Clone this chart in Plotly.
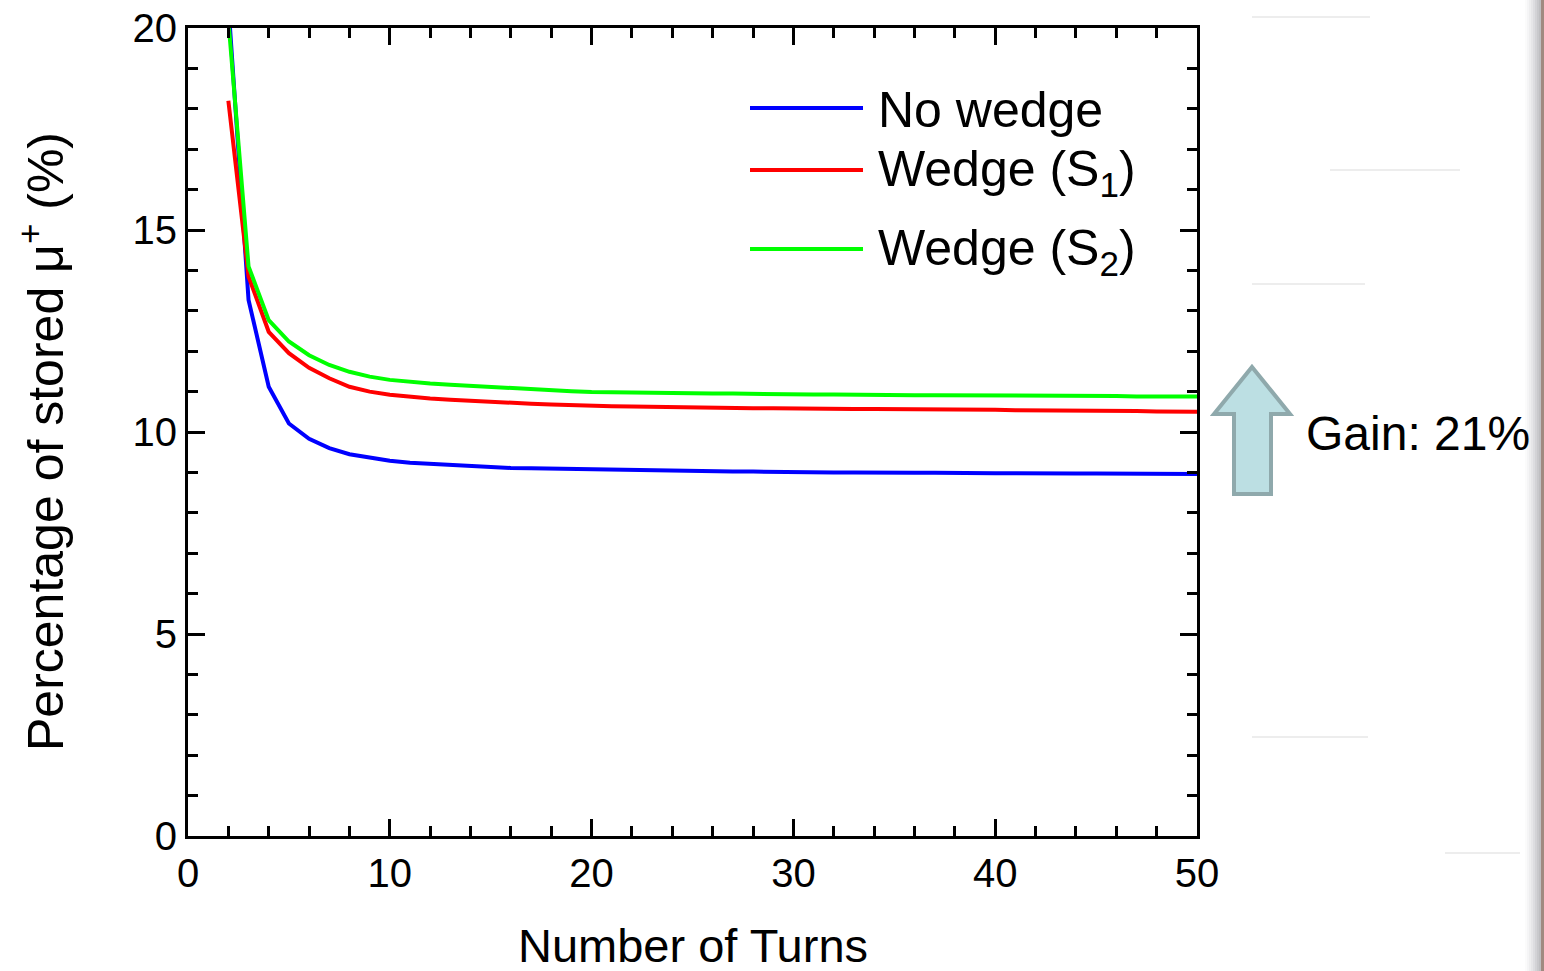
import plotly.graph_objects as go

turns = list(range(2, 51))

no_wedge = [20.6, 13.27, 11.12, 10.21, 9.83, 9.60, 9.45, 9.36, 9.29, 9.24,
            9.21, 9.18, 9.16, 9.14, 9.11, 9.10, 9.09, 9.08, 9.07, 9.06,
            9.05, 9.04, 9.04, 9.03, 9.03, 9.02, 9.02, 9.01, 9.01, 9.00,
            9.00, 9.00, 8.99, 8.99, 8.99, 8.99, 8.98, 8.98, 8.98, 8.98,
            8.97, 8.97, 8.97, 8.97, 8.97, 8.96, 8.96, 8.96, 8.96]
wedge_s1 = [18.2, 13.85, 12.48, 11.95, 11.59, 11.33, 11.12, 11.00, 10.92, 10.87,
            10.83, 10.80, 10.77, 10.75, 10.72, 10.70, 10.68, 10.66, 10.65, 10.64,
            10.63, 10.62, 10.61, 10.61, 10.60, 10.60, 10.59, 10.59, 10.58, 10.58,
            10.58, 10.57, 10.57, 10.57, 10.56, 10.56, 10.55, 10.55, 10.55, 10.54,
            10.54, 10.53, 10.53, 10.52, 10.52, 10.52, 10.51, 10.51, 10.50]
wedge_s2 = [20.2, 14.1, 12.77, 12.24, 11.90, 11.66, 11.49, 11.37, 11.29, 11.24,
            11.20, 11.17, 11.14, 11.12, 11.10, 11.07, 11.04, 11.01, 10.99, 10.98,
            10.97, 10.97, 10.96, 10.96, 10.95, 10.95, 10.94, 10.94, 10.93, 10.93,
            10.93, 10.92, 10.92, 10.92, 10.91, 10.91, 10.91, 10.90, 10.90, 10.90,
            10.90, 10.89, 10.89, 10.89, 10.89, 10.88, 10.88, 10.88, 10.88]

series_names = ["No wedge", "Wedge (S<sub>1</sub>)", "Wedge (S<sub>2</sub>)"]
series_colors = ["#0000FF", "#FF0000", "#00FF00"]
series_values = [no_wedge, wedge_s1, wedge_s2]

W, H = 1544, 971
L, R, T, B = 188, 1197, 28, 836


def px(x):
    return (x - L) / (R - L)


def py(y):
    return (B - y) / (B - T)


FONT = "Liberation Sans, Arial, sans-serif"

fig = go.Figure()
for name, col, vals in zip(series_names, series_colors, series_values):
    fig.add_trace(go.Scatter(x=turns, y=vals, mode="lines", name=name,
                             line=dict(color=col, width=4), showlegend=False))

axis_common = dict(
    showgrid=False, zeroline=False, showline=True, linecolor="black",
    linewidth=3, mirror="ticks", ticks="inside", ticklen=17, tickwidth=3,
    tickcolor="black", tickfont=dict(family=FONT, size=40, color="black"),
    automargin=False,
)

fig.update_xaxes(range=[0, 50], tick0=0, dtick=10,
                 minor=dict(dtick=2, ticks="inside", ticklen=10, tickwidth=2.5,
                            tickcolor="black"),
                 **axis_common)
fig.update_yaxes(range=[0, 20], tick0=0, dtick=5,
                 minor=dict(dtick=1, ticks="inside", ticklen=10, tickwidth=2.5,
                            tickcolor="black"),
                 **axis_common)

shapes = []
annotations = []

# axis titles
annotations.append(dict(xref="paper", yref="paper", x=px(693), y=py(945),
                        xanchor="center", yanchor="middle",
                        text="Number of Turns", showarrow=False,
                        font=dict(family=FONT, size=47, color="black")))
annotations.append(dict(xref="paper", yref="paper", x=px(42), y=py(442),
                        xanchor="center", yanchor="middle", textangle=-90,
                        text="Percentage of stored μ<sup>+</sup> (%)",
                        showarrow=False,
                        font=dict(family=FONT, size=50, color="black")))

# manual legend
leg_y = [108, 170, 249]
for name, col, yy in zip(series_names, series_colors, leg_y):
    shapes.append(dict(type="line", xref="paper", yref="paper",
                       x0=px(750), x1=px(863), y0=py(yy), y1=py(yy),
                       line=dict(color=col, width=4)))
    annotations.append(dict(xref="paper", yref="paper", x=px(876), y=py(yy + 2),
                            xanchor="left", yanchor="middle", text=name,
                            showarrow=False,
                            font=dict(family=FONT, size=50, color="black")))

# block arrow
pts = [(1252, 367), (1290, 414), (1271, 414), (1271, 494), (1234, 494),
       (1234, 414), (1214, 414)]
path = "M " + " L ".join(f"{px(a):.5f},{py(b):.5f}" for a, b in pts) + " Z"
shapes.append(dict(type="path", xref="paper", yref="paper", path=path,
                   fillcolor="#BCDFE3", line=dict(color="#8FA9AC", width=4)))

annotations.append(dict(xref="paper", yref="paper", x=px(1304), y=py(433),
                        xanchor="left", yanchor="middle", text="Gain: 21%",
                        showarrow=False,
                        font=dict(family=FONT, size=48, color="black")))

# faint scan artifacts on the right
for yy, x0, x1 in [(17, 1252, 1370), (284, 1252, 1365), (737, 1252, 1368),
                   (853, 1445, 1520), (170, 1330, 1460)]:
    shapes.append(dict(type="line", xref="paper", yref="paper",
                       x0=px(x0), x1=px(x1), y0=py(yy), y1=py(yy),
                       line=dict(color="#EDEDED", width=2)))

# right-edge shadow
shade = ["#FBFBFB", "#F5F5F6", "#EEEEEF", "#E6E6E8", "#DDDDE0", "#D3D3D6",
         "#C9C9CC", "#BFBFC2"]
for i, c in enumerate(shade):
    x0 = 1525 + i * 2
    shapes.append(dict(type="rect", xref="paper", yref="paper",
                       x0=px(x0), x1=px(x0 + 2), y0=py(H), y1=py(0),
                       fillcolor=c, line=dict(width=0), layer="above"))
shapes.append(dict(type="rect", xref="paper", yref="paper",
                   x0=px(1541), x1=px(W), y0=py(H), y1=py(0),
                   fillcolor="#A08A80", line=dict(width=0), layer="above"))

fig.update_layout(
    width=W, height=H,
    margin=dict(l=L, r=W - R, t=T, b=H - B),
    paper_bgcolor="white", plot_bgcolor="white",
    shapes=shapes, annotations=annotations,
    font=dict(family=FONT, color="black"),
)

fig.write_html(
    "out.html",
    config={"displayModeBar": False},
    post_script="document.body.style.margin='0';document.body.style.overflow='hidden';",
)
